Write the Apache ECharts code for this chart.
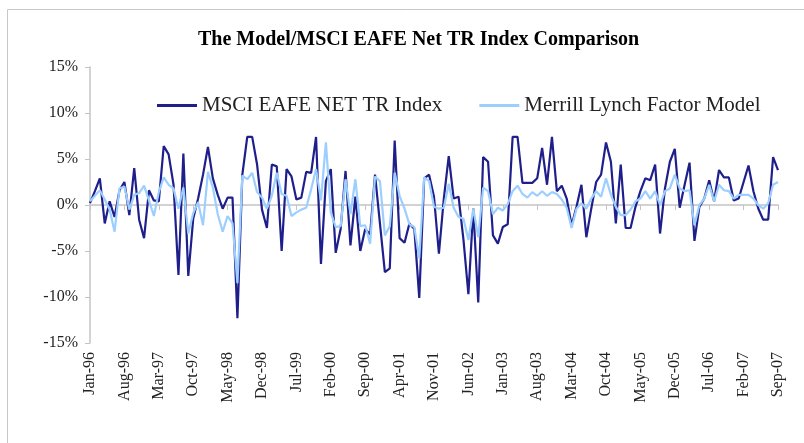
<!DOCTYPE html>
<html>
<head>
<meta charset="utf-8">
<script src="https://cdn.jsdelivr.net/npm/echarts@6/dist/echarts.min.js"></script>
<style>
  html, body { margin: 0; padding: 0; background: #fff; }
  #chart { width: 804px; height: 443px; }
</style>
</head>
<body>
<div id="chart"></div>
<script>
// monthly returns in %, Jan-96 .. Sep-07
var msci = [
  0.2, 1.5, 2.9, -2.0, 0.4, -1.3, 1.6, 2.5, -1.1, 4.0, -1.6, -3.6,
  1.6, 0.5, 0.4, 6.4, 5.5, 2.2, -7.6, 5.6, -7.7, -1.5, 0.7, 3.3,
  6.3, 2.9, 1.1, -0.4, 0.8, 0.8, -12.3, 3.3, 7.4, 7.4, 4.4, -0.5,
  -2.5, 4.4, 4.2, -5.0, 3.9, 3.1, 0.6, 0.8, 3.6, 3.5, 7.4, -6.4,
  2.6, 3.9, -5.2, -2.6, 3.7, -4.4, 0.9, -5.0, -2.6, -3.2, 3.3, -2.0,
  -7.3, -6.9, 7.0, -3.6, -4.1, -2.0, -2.6, -10.1, 2.9, 3.3, 0.9, -5.3,
  0.7, 5.3, 0.7, 0.9, -3.8, -9.7, -0.4, -10.6, 5.2, 4.7, -3.3, -4.2,
  -2.4, -2.1, 7.4, 7.4, 2.4, 2.4, 2.4, 2.9, 6.2, 2.2, 7.4, 1.5,
  2.1, 0.7, -2.2, -0.2, 2.2, -3.5, -0.4, 2.5, 3.3, 6.8, 4.7, -2.0,
  4.4, -2.5, -2.5, -0.2, 1.5, 2.9, 2.7, 4.4, -3.1, 1.8, 4.7, 6.1,
  -0.3, 2.2, 4.6, -3.9, -0.2, 0.7, 2.7, 0.4, 3.8, 3.0, 3.0, 0.5,
  0.7, 2.5, 4.3, 1.5, -0.4, -1.6, -1.6, 5.2, 3.8
]
var model = [
  0.4, 1.0, 1.6, 0.6, -0.5, -2.9, 1.8, 2.0, -0.5, 1.1, 1.3, 2.1,
  0.5, -1.2, 1.4, 3.0, 2.2, 1.8, -0.4, 1.9, -3.1, -0.9, 0.3, -2.2,
  3.6, 1.9, -1.0, -2.9, -1.2, -2.0, -8.5, 3.2, 2.8, 3.5, 1.4, 0.8,
  -0.4, 1.0, 3.5, 1.2, 1.0, -1.2, -0.8, -0.5, -0.3, 1.7, 3.9, 0.5,
  6.8, -0.8, -2.4, -2.3, 2.8, -1.0, 2.8, -2.3, -2.2, -4.2, 3.1, 2.6,
  -3.3, -2.3, 3.5, 1.0, -0.4, -2.1, -2.4, -5.8, 3.0, 2.6, -0.2, -0.4,
  -0.3, 2.3, -0.3, -1.3, -1.5, -3.8, -0.4, -3.5, 1.9, 1.5, -1.0, -0.3,
  -0.6, 0.1, 1.5, 2.1, 1.2, 0.8, 1.4, 1.0, 1.5, 1.0, 1.4, 1.2,
  0.6, -0.3, -2.5, -0.4, 0.2, -0.4, 0.7, 1.5, 0.9, 2.9, 1.1, -0.2,
  -1.1, -1.1, -0.5, 0.4, 0.7, 1.5, 0.7, 1.5, 0.0, 1.5, 1.8, 3.3,
  1.8, 1.5, 1.6, -2.2, 0.0, 0.7, 2.2, 0.4, 2.2, 1.6, 1.5, 0.7,
  1.1, 1.1, 1.1, 0.7, 0.0, -0.4, 0.2, 2.2, 2.5
]
var monthNames = ['Jan', 'Feb', 'Mar', 'Apr', 'May', 'Jun', 'Jul', 'Aug', 'Sep', 'Oct', 'Nov', 'Dec']
var months = []
for (var i = 0; i < msci.length; i++) {
  var yy = (96 + Math.floor(i / 12)) % 100
  months.push(monthNames[i % 12] + '-' + (yy < 10 ? '0' + yy : yy))
}

var serif = 'Liberation Serif'
var chart = echarts.init(document.getElementById('chart'))
chart.setOption({
  animation: false,
  backgroundColor: '#fff',
  title: {
    text: 'The Model/MSCI EAFE Net TR Index Comparison',
    left: 193,
    top: 25,
    textStyle: { fontFamily: serif, fontSize: 20, fontWeight: 'bold', color: '#000' }
  },
  graphic: [{
    type: 'rect',
    shape: { x: 7.5, y: 9.5, width: 900, height: 600 },
    style: { fill: 'none', stroke: '#c8c8c8', lineWidth: 1 }
  }],
  legend: {
    left: 152,
    top: 90,
    icon: 'rect',
    itemWidth: 40,
    itemHeight: 3,
    itemGap: 37,
    textStyle: { fontFamily: serif, fontSize: 21, color: '#222' },
    data: ['MSCI EAFE NET TR Index', 'Merrill Lynch Factor Model']
  },
  grid: { left: 90, right: 26, top: 67, bottom: 100 },
  xAxis: [
    {
      type: 'category',
      data: months,
      boundaryGap: false,
      axisLine: { show: false, onZero: false },
      axisTick: { show: false },
      axisLabel: {
        interval: 6,
        rotate: 90,
        margin: 9,
        fontFamily: serif,
        fontSize: 16,
        color: '#222'
      }
    },
    {
      type: 'category',
      data: months,
      boundaryGap: false,
      position: 'bottom',
      axisLine: { onZero: true, lineStyle: { color: '#c4c4c4', width: 1.5 } },
      axisTick: { interval: 6, length: 5, lineStyle: { color: '#c4c4c4' } },
      axisLabel: { show: false }
    }
  ],
  yAxis: {
    type: 'value',
    min: -15,
    max: 15,
    interval: 5,
    axisLine: { show: true, lineStyle: { color: '#c4c4c4', width: 1.5 } },
    axisTick: { show: true, length: 5, lineStyle: { color: '#c4c4c4' } },
    splitLine: { show: false },
    axisLabel: {
      formatter: '{value}%',
      margin: 12,
      fontFamily: serif,
      fontSize: 16,
      color: '#222'
    }
  },
  series: [
    {
      name: 'MSCI EAFE NET TR Index',
      type: 'line',
      data: msci,
      symbol: 'none',
      color: '#1f1f8c',
      lineStyle: { width: 2.2, color: '#1f1f8c' }
    },
    {
      name: 'Merrill Lynch Factor Model',
      type: 'line',
      data: model,
      symbol: 'none',
      color: '#9ccfff',
      lineStyle: { width: 2.2, color: '#9ccfff' }
    }
  ]
})
</script>
</body>
</html>
